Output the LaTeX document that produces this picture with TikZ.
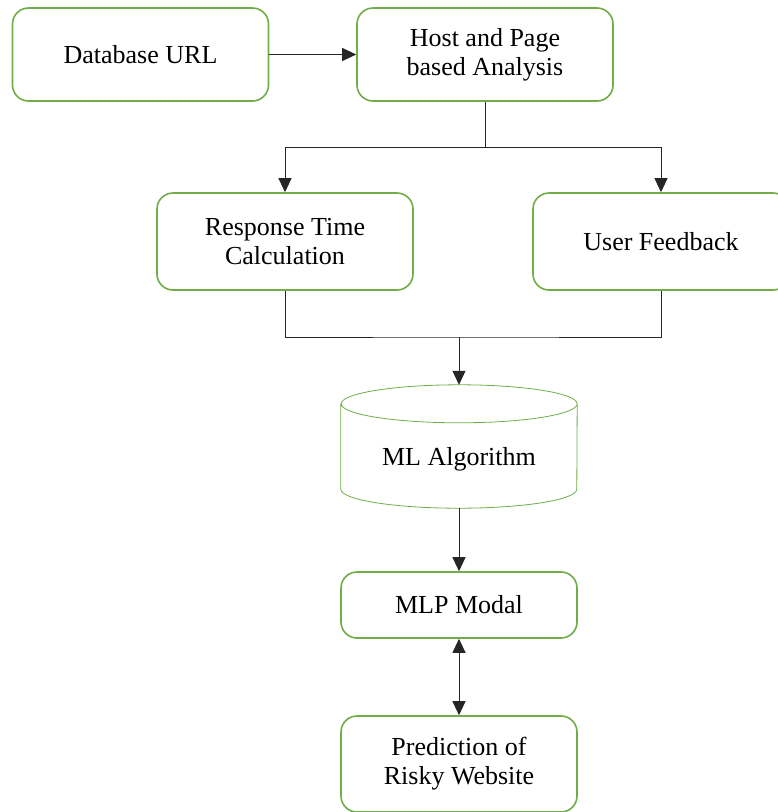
\documentclass[tikz,border=0pt]{standalone}
\usepackage{fontspec}
\setmainfont{Liberation Serif}
\usetikzlibrary{arrows.meta, calc}

\definecolor{boxgreen}{HTML}{70AD47}

\begin{document}
\begin{tikzpicture}[x=1pt, y=-1pt,
  box/.style={draw=boxgreen, line width=1.6pt, rounded corners=16pt,
    minimum width=256pt, align=center, font=\fontsize{26}{29}\selectfont},
  cylbody/.style={minimum width=236pt, minimum height=123pt, inner sep=0pt,
    font=\fontsize{26}{29}\selectfont},
  link/.style={black!85, line width=1pt},
  arr/.style={link, -{Triangle[length=14pt,width=13pt]}},
  arrboth/.style={link, {Triangle[length=14pt,width=13pt]}-{Triangle[length=14pt,width=13pt]}}]
% Page is 778 x 812, boxes running off the right and bottom are cut
\clip (0,0) rectangle (778,812);
% Top row
\node [box, minimum height=93pt] (db) at (140.5,54.5) {Database URL};
\node [box, minimum height=93pt] (host) at (485,54.5) {Host and Page\\based Analysis};
% Second row
\node [box, minimum height=97pt] (resp) at (285,241.5) {Response Time\\Calculation};
\node [box, minimum height=97pt] (user) at (661,241.5) {User Feedback};
% Cylinder for the algorithm, north and south are the tips of the outline
\node [cylbody] (ml) at (459,446.5) {\raisebox{-19pt}[0pt][0pt]{ML Algorithm}};
\draw [boxgreen, line width=0.8pt]
  ([yshift=-19pt]ml.north west) -- ([yshift=19pt]ml.south west)
  arc[start angle=180, end angle=360, x radius=118pt, y radius=19pt]
  -- ([yshift=-19pt]ml.north east)
  arc[start angle=0, end angle=180, x radius=118pt, y radius=19pt]
  arc[start angle=180, end angle=360, x radius=118pt, y radius=19pt];
% Lower boxes
\node [box, minimum width=236pt, minimum height=66pt] (mlp) at (459,605) {MLP Modal};
\node [box, minimum width=236pt, minimum height=96pt] (pred) at (459,764) {Prediction of\\Risky Website};
% Split and merge points
\coordinate (split) at ($(host.south)+(0,46)$);
\coordinate (merge) at (459,337);
% Connectors
\draw [arr] (db) -- (host);
\draw [link] (host.south) -- (split);
\draw [arr] (split) -| (resp.north);
\draw [arr] (split) -| (user.north);
\draw [link] (resp.south) |- (merge) -| (user.south);
\draw [arr] (merge) -- (ml.north);
\draw [arr] (ml.south) -- (mlp.north);
\draw [arrboth] (mlp.south) -- (pred.north);
\end{tikzpicture}
\end{document}
